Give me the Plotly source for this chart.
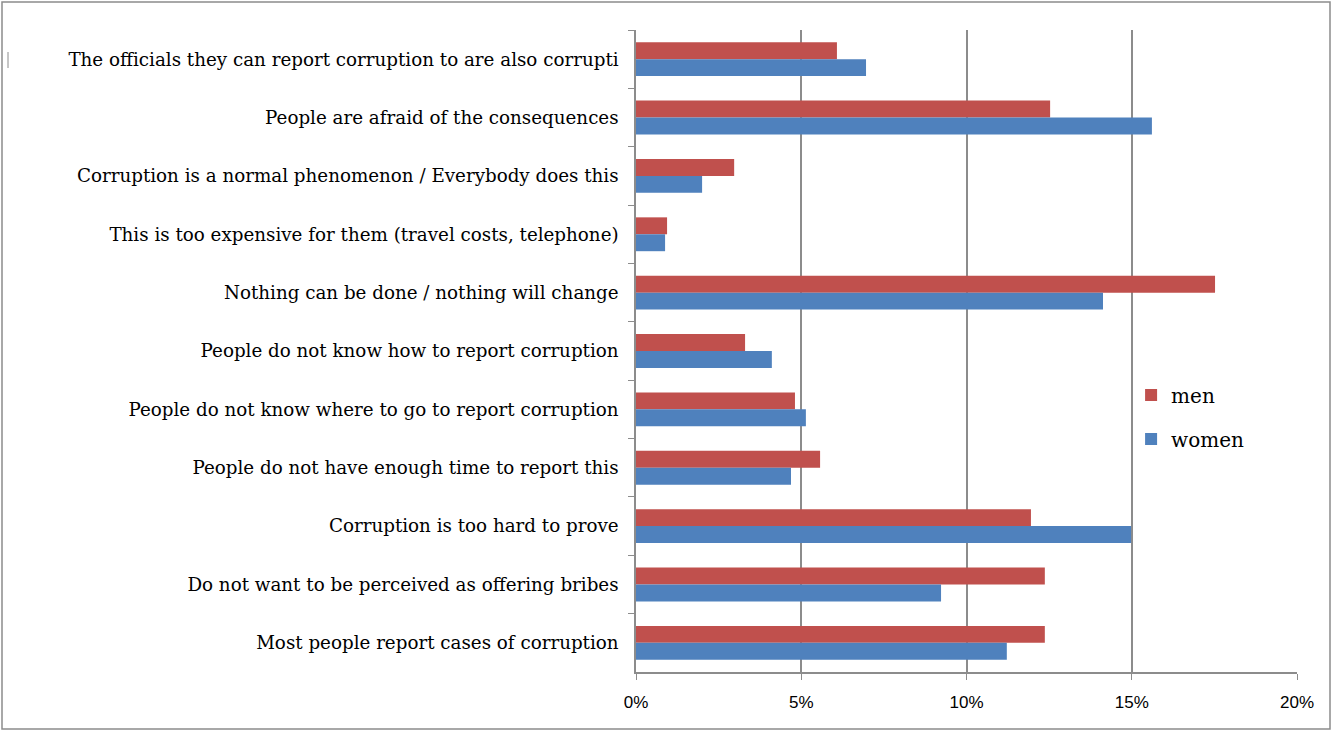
import plotly.graph_objects as go

categories = [
    "The officials they can report corruption to are also corrupti",
    "People are afraid of the consequences",
    "Corruption is a normal phenomenon / Everybody does this",
    "This is too expensive for them (travel costs, telephone)",
    "Nothing can be done / nothing will change",
    "People do not know how to report corruption",
    "People do not know where to go to report corruption",
    "People do not have enough time to report this",
    "Corruption is too hard to prove",
    "Do not want to be perceived as offering bribes",
    "Most people report cases of corruption",
]
men = [0.0608, 0.1253, 0.0297, 0.0094, 0.1752, 0.0330, 0.0481, 0.0557, 0.1195, 0.1237, 0.1237]
women = [0.0696, 0.1561, 0.0200, 0.0088, 0.1413, 0.0411, 0.0514, 0.0469, 0.1498, 0.0923, 0.1122]
x_ticks = [0, 0.05, 0.10, 0.15, 0.20]
x_tick_labels = ["0%", "5%", "10%", "15%", "20%"]

PW, PH = 661, 642  # plot area size in px

fig = go.Figure()
fig.add_trace(go.Bar(y=categories, x=men, name="men", orientation="h",
                     marker=dict(color="#C0504D", line=dict(width=0)),
                     legendgroup="m"))
fig.add_trace(go.Bar(y=categories, x=women, name="women", orientation="h",
                     marker=dict(color="#4F81BD", line=dict(width=0)),
                     legendgroup="w"))

fig.update_layout(
    width=1333, height=731,
    paper_bgcolor="white", plot_bgcolor="white",
    margin=dict(l=636, r=36, t=30, b=59),
    barmode="group", bargap=0.42, bargroupgap=0,
    font=dict(family="DejaVu Serif, serif", size=18.3, color="black"),
    legend=dict(x=0.749, y=0.462, xanchor="left", yanchor="top",
                font=dict(family="DejaVu Serif, serif", size=20),
                traceorder="grouped", tracegroupgap=15,
                bgcolor="rgba(0,0,0,0)"),
    xaxis=dict(range=[0, 0.2], tickvals=x_ticks, ticktext=x_tick_labels,
               showgrid=True, gridcolor="#8c8c8c", gridwidth=1.5,
               showline=True, linecolor="#8c8c8c", linewidth=1.5,
               ticks="outside", ticklen=6, tickcolor="#8c8c8c",
               ticklabelstandoff=8,
               tickfont=dict(family="Liberation Sans Narrow, Liberation Sans, sans-serif", size=17),
               zeroline=False, fixedrange=True),
    yaxis=dict(autorange="reversed", showline=True, linecolor="#8c8c8c", linewidth=1.5,
               ticks="outside", ticklen=6, tickcolor="#8c8c8c",
               tickson="boundaries", ticklabelstandoff=12,
               tickfont=dict(family="DejaVu Serif, serif", size=18.3),
               showgrid=False, fixedrange=True),
    shapes=[
        dict(type="rect", xref="paper", yref="paper",
             x0=-634/PW, x1=1 + 33/PW, y0=-57/PH, y1=1 + 28/PH,
             line=dict(color="#8c8c8c", width=1.5), fillcolor="rgba(0,0,0,0)"),
        dict(type="line", xref="paper", yref="paper",
             x0=-628/PW, x1=-628/PW, y0=(672 - 68)/PH, y1=(672 - 52)/PH,
             line=dict(color="#8c8c8c", width=1)),
    ],
)

fig.write_html("out.html", config={"displayModeBar": False})

# remove default browser body margin so the figure fills the window exactly
with open("out.html", "r", encoding="utf-8") as f:
    html = f.read()
html = html.replace("<head>", "<head><style>html,body{margin:0;padding:0;overflow:hidden;}</style>", 1)
with open("out.html", "w", encoding="utf-8") as f:
    f.write(html)
